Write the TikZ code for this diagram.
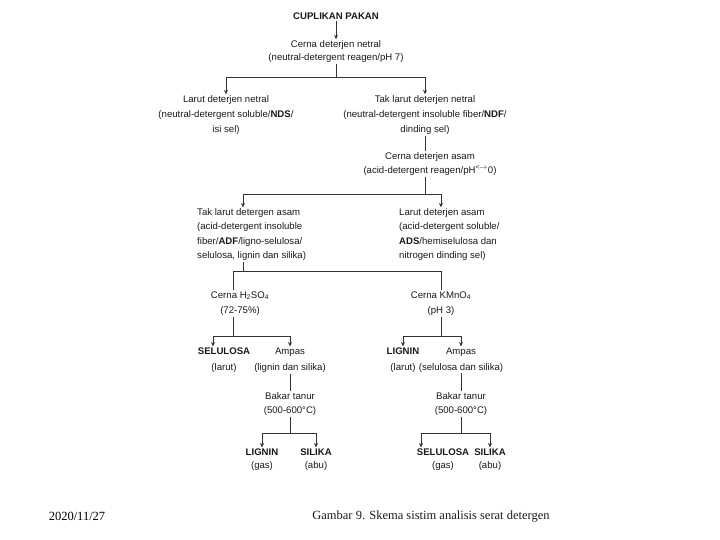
\documentclass[tikz,border=0pt]{standalone}
\usepackage{fontspec}
\setmainfont{Liberation Sans}
\newfontfamily\capfont{Liberation Serif}
\usetikzlibrary{arrows.meta}
\begin{document}
\begin{tikzpicture}[x=1pt,y=-1pt,
  txt/.style={inner sep=1pt, align=center, font=\fontsize{9.6}{#1}\selectfont, text=black!90},
  txt/.default=14,
  ln/.style={draw=black!80, line width=0.9pt},
  arr/.style={ln, -{Stealth[length=4.5pt,width=4pt]}}]
\useasboundingbox (0,0) rectangle (720,540);
% nodes
\node[txt] (c0) at (336,16) {\textbf{CUPLIKAN PAKAN}};
\node[txt=13] (n1) at (336,51.5) {Cerna deterjen netral\\(neutral-detergent reagen/pH 7)};
\node[txt=15] (n2) at (226,115) {Larut deterjen netral\\(neutral-detergent soluble/\textbf{NDS}/\\isi sel)};
\node[txt=15] (n3) at (425,115) {Tak larut deterjen netral\\(neutral-detergent insoluble fiber/\textbf{NDF}/\\dinding sel)};
\node[txt=14] (n4) at (430,164) {Cerna deterjen asam\\(acid-detergent reagen/pH\textsuperscript{<$\rightarrow$}0)};
\node[txt=14.3, align=left, anchor=west] (n5) at (196,234.5) {Tak larut detergen asam\\(acid-detergent insoluble\\fiber/\textbf{ADF}/ligno-selulosa/\\selulosa, lignin dan silika)};
\node[txt=14.3, align=left, anchor=west] (n6) at (398,234.5) {Larut deterjen asam\\(acid-detergent soluble/\\\textbf{ADS}/hemiselulosa dan\\nitrogen dinding sel)};
\node[txt=15] (n7) at (240,303.5) {Cerna H\textsubscript{2}SO\textsubscript{4}\\(72-75\%)};
\node[txt=15] (n8) at (441,303.5) {Cerna KMnO\textsubscript{4}\\(pH 3)};
\node[txt=16] (n9) at (224,360) {\textbf{SELULOSA}\\(larut)};
\node[txt=16] (n10) at (290,360) {Ampas\\(lignin dan silika)};
\node[txt=14] (n11) at (290,404) {Bakar tanur\\(500-600°C)};
\node[txt=13] (n12) at (262,459.5) {\textbf{LIGNIN}\\(gas)};
\node[txt=13] (n13) at (316,459.5) {\textbf{SILIKA}\\(abu)};
\node[txt=16] (n14) at (403,360) {\textbf{LIGNIN}\\(larut)};
\node[txt=16] (n15) at (461,360) {Ampas\\(selulosa dan silika)};
\node[txt=14] (n16) at (461,404) {Bakar tanur\\(500-600°C)};
\node[txt=13] (n17) at (443,459.5) {\textbf{SELULOSA}\\(gas)};
\node[txt=13] (n18) at (490,459.5) {\textbf{SILIKA}\\(abu)};
\node[font=\capfont\fontsize{12.5}{14}\selectfont, inner sep=0pt, anchor=base] (d) at (77,520) {2020/11/27};
\node[font=\capfont\fontsize{12.5}{14}\selectfont, inner sep=0pt, anchor=base, text=black!90] (cap) at (431,519) {Gambar 9. Skema sistim analisis serat detergen};
% junctions and x positions
\coordinate (j1) at (336,77);
\coordinate (j2) at (425,194);
\coordinate (j3) at (243,271);
\coordinate (x5) at (243,0);
\coordinate (x7) at (233,0);
\coordinate (j4) at (233,336);
\coordinate (x9) at (213,0);
\coordinate (j5) at (290,433);
\coordinate (j6) at (441,336);
\coordinate (j7) at (461,433);
\coordinate (x17) at (421,0);
% connectors
\draw[arr] (c0) -- (n1);
\draw[ln] (n1) -- (j1);
\draw[arr] (j1) -| (n2);
\draw[arr] (j1) -| (n3);
\draw[ln] (n3) -- (n3 |- n4.north);
\draw[ln] (n3 |- n4.south) -- (j2);
\draw[arr] (j2) -| (n5.north -| x5);
\draw[arr] (j2) -| (n6.north -| n8);
\draw[ln] (n5.south -| x5) -- (j3);
\draw[ln] (n7.north -| x7) -- (x7 |- j3) -| (n8);
\draw[ln] (n7.south -| x7) -- (j4);
\draw[arr] (j4) -| (n9.north -| x9);
\draw[arr] (j4) -| (n10);
\draw[ln] (n10) -- (n11);
\draw[ln] (n11) -- (j5);
\draw[arr] (j5) -| (n12);
\draw[arr] (j5) -| (n13);
\draw[ln] (n8) -- (j6);
\draw[arr] (j6) -| (n14);
\draw[arr] (j6) -| (n15);
\draw[ln] (n15) -- (n16);
\draw[ln] (n16) -- (j7);
\draw[arr] (j7) -| (n17.north -| x17);
\draw[arr] (j7) -| (n18);
\end{tikzpicture}
\end{document}
